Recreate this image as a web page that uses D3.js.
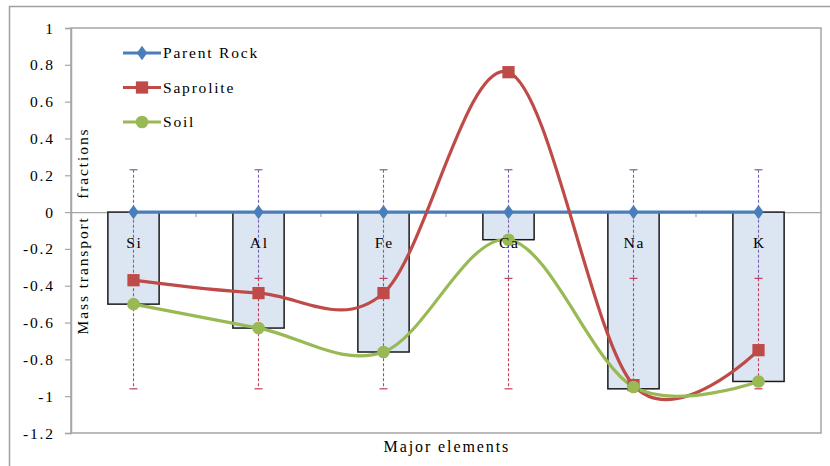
<!DOCTYPE html>
<html>
<head>
<meta charset="utf-8">
<script src="https://cdn.jsdelivr.net/npm/d3@7/dist/d3.min.js"></script>
<style>
html,body{margin:0;padding:0;background:#fff;}
svg{display:block;}
text{font-family:"Liberation Serif","Times New Roman",serif;fill:#000;}
</style>
</head>
<body>
<svg id="chart" width="830" height="466"></svg>
<script>
const categories = ["Si","Al","Fe","Ca","Na","K"];
const barValues  = [-0.50,-0.63,-0.76,-0.15,-0.96,-0.92];
const parentRock = [0,0,0,0,0,0];
const saprolite  = [-0.37,-0.44,-0.44,0.76,-0.94,-0.75];
const soil       = [-0.50,-0.63,-0.76,-0.15,-0.95,-0.92];
const errTop     = [0.23,0.23,0.23,0.23,0.23,0.23];
const errMid     = [-0.36,-0.36,-0.36,-0.36,-0.36,-0.36];
const errBottom  = [-0.96,-0.96,-0.96,-0.96,-0.96,-0.96];
const yTicks     = [1,0.8,0.6,0.4,0.2,0,-0.2,-0.4,-0.6,-0.8,-1,-1.2];
const seriesNames = ["Parent Rock","Saprolite","Soil"];

const svg = d3.select("#chart");
const L = 71, R = 821, T = 28, B = 433;
const LS = 1.8; // letter spacing

const x = d3.scaleBand().domain(categories).range([L, R]).padding(0);
const y = d3.scaleLinear().domain([-1.2, 1]).range([B, T]);
const cx = c => x(c) + x.bandwidth() / 2;

// outer frame (top & left visible)
svg.append("path").attr("d", `M9.5,466 V6.5 H830`).attr("fill","none")
  .attr("stroke","#a0a0a0").attr("stroke-width",1.5);

// plot area border
svg.append("rect").attr("x",L).attr("y",T).attr("width",R-L).attr("height",B-T)
  .attr("fill","none").attr("stroke","#a6a6a6").attr("stroke-width",1.5);

// y axis
const yAxis = svg.append("g").attr("transform",`translate(${L},0)`)
  .call(d3.axisLeft(y).tickValues(yTicks).tickSize(6).tickPadding(0).tickFormat(d3.format("")));
yAxis.attr("font-family",null).attr("font-size",null);
yAxis.select(".domain").attr("stroke","#a6a6a6").attr("stroke-width",1.5);
yAxis.selectAll(".tick line").attr("stroke","#a6a6a6").attr("stroke-width",1.2);
yAxis.selectAll(".tick text")
  .attr("x",-18 + LS).attr("dy",null).attr("y",5)
  .style("font-size","15.5px").style("letter-spacing",LS+"px")
  .text(d => d3.format("")(d).replace("−","-"));

// zero axis line with category boundary ticks
const xAxis = svg.append("g").attr("transform",`translate(0,${y(0)})`)
  .call(d3.axisBottom(x).tickSize(0).tickFormat(""));
xAxis.select(".domain").attr("stroke","#a6a6a6").attr("stroke-width",1.2);
xAxis.selectAll(".tick").remove();
const bounds = categories.map(c => x(c)).slice(1);
svg.append("g").selectAll("line").data(bounds).join("line")
  .attr("x1",d=>d).attr("x2",d=>d).attr("y1",y(0)).attr("y2",y(0)+5)
  .attr("stroke","#a6a6a6").attr("stroke-width",1.2);

// bars
const bw = x.bandwidth() * 0.41;
svg.append("g").selectAll("rect").data(categories).join("rect")
  .attr("x", c => cx(c) - bw/2)
  .attr("y", (c,i) => y(Math.max(0, barValues[i])))
  .attr("width", bw)
  .attr("height", (c,i) => Math.abs(y(barValues[i]) - y(0)))
  .attr("fill","#dce6f2").attr("stroke","#1a1a1a").attr("stroke-width",1.5);

// error bars
const eg = svg.append("g");
categories.forEach((c,i) => {
  const X = cx(c);
  eg.append("line").attr("x1",X).attr("x2",X).attr("y1",y(errTop[i])).attr("y2",y(errMid[i]))
    .attr("stroke","#7b5fb0").attr("stroke-width",1.1).attr("stroke-dasharray","3,2");
  eg.append("line").attr("x1",X).attr("x2",X).attr("y1",y(errMid[i])).attr("y2",y(errBottom[i]))
    .attr("stroke","#c0405a").attr("stroke-width",1.1).attr("stroke-dasharray","3,2");
  [[errTop[i],"#8a5f9a"],[errMid[i],"#c0405a"],[errBottom[i],"#c0405a"]].forEach(([v,col]) => {
    eg.append("line").attr("x1",X-4).attr("x2",X+4).attr("y1",y(v)).attr("y2",y(v))
      .attr("stroke",col).attr("stroke-width",1.2);
  });
});

// lines
const colors = ["#4a7ebb","#be4b48","#98b954"];
const allSeries = [parentRock, saprolite, soil];
const line = d3.line().x((d,i) => cx(categories[i])).y(d => y(d)).curve(d3.curveCatmullRom.alpha(0));
allSeries.forEach((s,k) => {
  svg.append("path").datum(s).attr("d", line).attr("fill","none")
    .attr("stroke", colors[k]).attr("stroke-width",3.2).attr("stroke-linecap","round");
});

// markers
function drawMarker(g, k, X, Y) {
  const sym = d3.symbol().type(k===1 ? d3.symbolSquare : (k===0 ? d3.symbolDiamond : d3.symbolCircle))
    .size(k===0 ? 60 : (k===1 ? 150 : 125));
  g.append("path").attr("d", sym()).attr("transform",
    k===0 ? `translate(${X},${Y}) scale(1.25,1)` : `translate(${X},${Y})`)
    .attr("fill", colors[k]).attr("stroke","none");
}
const mg = svg.append("g");
allSeries.forEach((s,k) => {
  s.forEach((v,i) => drawMarker(mg, k, cx(categories[i]), y(v)));
});

// category labels
svg.append("g").selectAll("text").data(categories).join("text")
  .attr("x", c => cx(c) + LS/2).attr("y", 248)
  .attr("text-anchor","middle").style("font-size","15.5px").style("letter-spacing",LS+"px").text(c => c);

// legend
const lg = svg.append("g");
seriesNames.forEach((n,k) => {
  const ly = 53 + k*34.5;
  lg.append("line").attr("x1",123).attr("x2",161).attr("y1",ly).attr("y2",ly)
    .attr("stroke",colors[k]).attr("stroke-width",3.2);
  drawMarker(lg, k, 142, ly);
  lg.append("text").attr("x",163).attr("y",ly+5)
    .style("font-size","15.5px").style("letter-spacing",LS+"px").text(n);
});

// axis titles
svg.append("text").attr("x",446 + LS/2).attr("y",452)
  .attr("text-anchor","middle").style("font-size","16px").style("letter-spacing","1.9px").text("Major elements");
svg.append("text").attr("transform",`translate(88,231) rotate(-90)`)
  .attr("text-anchor","middle").style("font-size","15.5px").style("letter-spacing","1.9px")
  .style("white-space","pre").attr("xml:space","preserve").text("Mass transport   fractions");
</script>
</body>
</html>
